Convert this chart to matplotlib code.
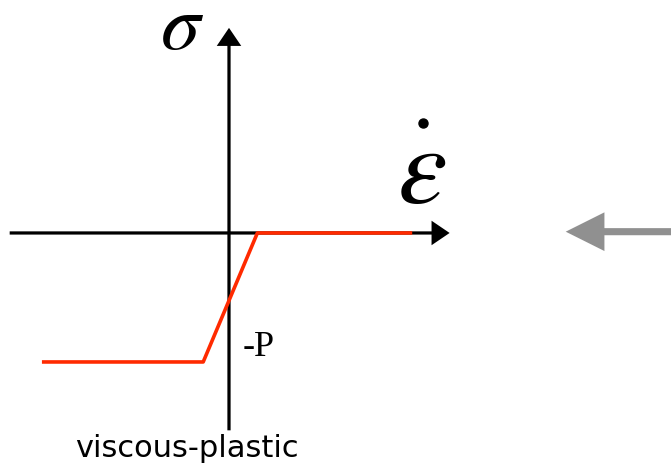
import matplotlib.pyplot as plt
from matplotlib.patches import FancyArrow

# piecewise viscous-plastic law: stress vs strain rate (P = 1)
P = 1.0
strain_rate = [-1.45, -0.2, 0.22, 1.42]
stress = [-P, -P, 0.0, 0.0]

plt.rcParams['mathtext.fontset'] = 'stix'

fig = plt.figure(figsize=(6.71, 4.68), dpi=100)
ax = fig.add_axes([0, 0, 1, 1])
ax.set_xlim(-1.775, 3.426)
ax.set_ylim(-1.822, 1.806)
ax.axis('off')

# axes with arrowheads
ax.add_patch(FancyArrow(-1.70, 0, 3.41, 0, width=0.025, head_width=0.19,
                        head_length=0.14, length_includes_head=True,
                        color='black', lw=0))
ax.add_patch(FancyArrow(0, -1.53, 0, 3.12, width=0.025, head_width=0.19,
                        head_length=0.14, length_includes_head=True,
                        color='black', lw=0))

ax.plot(strain_rate, stress, color='#ff2a00', lw=2.6, solid_capstyle='butt',
        zorder=3)

# grey arrow on the right edge
ax.add_patch(FancyArrow(3.45, 0.01, -0.84, 0, width=0.055, head_width=0.30,
                        head_length=0.30, length_includes_head=True,
                        color='#909090', lw=0))

ax.text(-0.364, 1.43, r'$\sigma$', fontsize=57, ha='center', va='baseline')
ax.text(1.49, 0.233, r'$\varepsilon$', fontsize=80, ha='center',
        va='baseline')
ax.plot([1.504], [0.853], 'o', color='black', ms=6.5)
ax.text(0.109, -0.953, '-P', fontsize=26, family='Liberation Serif',
        va='baseline')
ax.text(-1.194, -1.736, 'viscous-plastic', fontsize=22, family='DejaVu Sans',
        va='baseline')

fig.savefig('out.png', dpi=100)
